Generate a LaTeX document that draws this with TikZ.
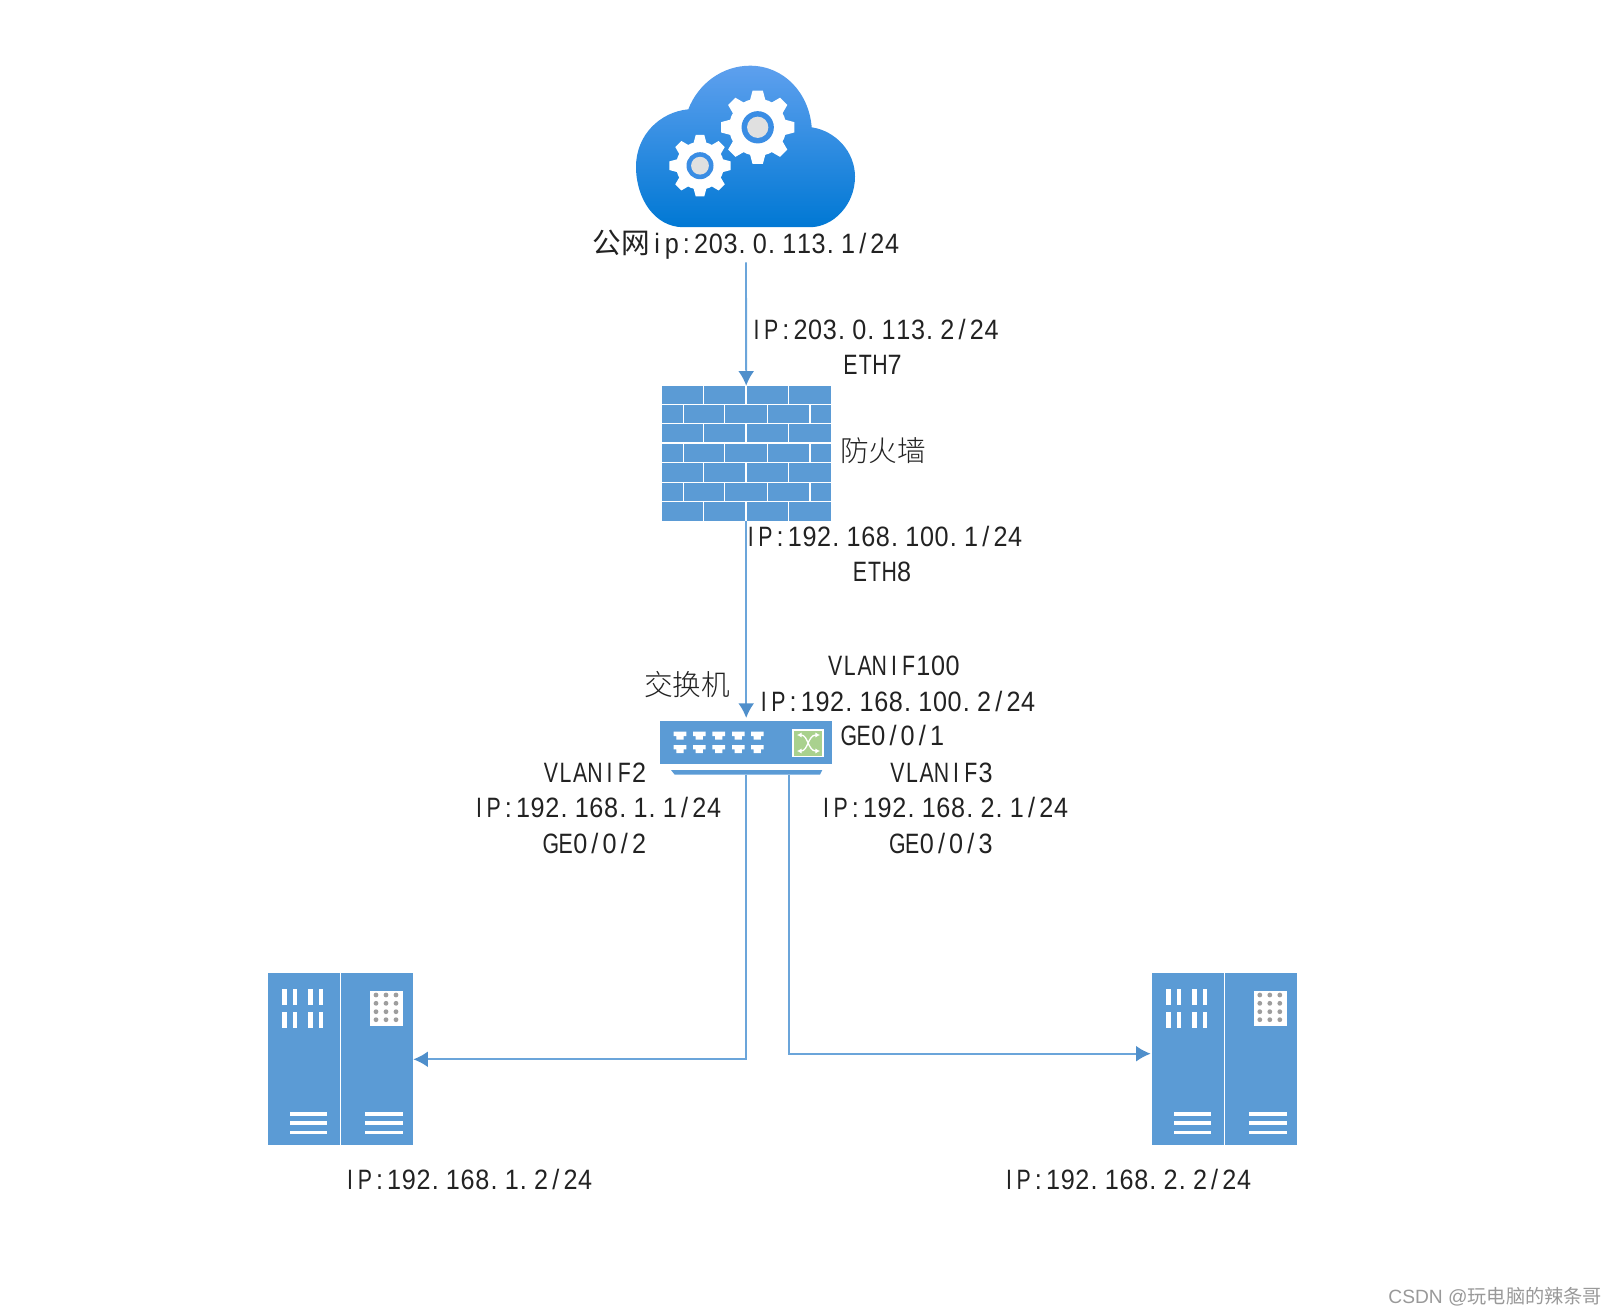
\documentclass[tikz,border=0pt]{standalone}
\usepackage{fontspec}
\usetikzlibrary{arrows.meta}
\setmainfont[FakeStretch=0.9]{Liberation Sans}
\newfontfamily\capf[FakeStretch=0.76]{Liberation Sans}
\newfontfamily\cjkf[UprightFont={* Light}]{Noto Sans CJK SC}
\newfontfamily\cjkw{Noto Sans CJK SC}
\newfontfamily\plainf{Liberation Sans}
\definecolor{netblue}{HTML}{5B9BD5}
\definecolor{linkblue}{HTML}{6BA5DA}
\definecolor{tipblue}{HTML}{4F8FCB}
\definecolor{txt}{HTML}{222222}
\definecolor{cloudtop}{HTML}{5EA0EE}
\definecolor{cloudbot}{HTML}{0078D4}
\definecolor{ringblue}{HTML}{3A8DE4}
\definecolor{swgreen}{HTML}{A9D18E}
\makeatletter
\def\mydot{.}
\newcommand{\monotxt}[1]{\fontsize{21pt}{25pt}\selectfont\@tfor\my@c:=#1\do{%
  \ifx\my@c\mydot\makebox[11.02pt][l]{\hspace{0.6pt}.}%
  \else
    \ifnum\expandafter`\my@c>64 \ifnum\expandafter`\my@c<91 \makebox[11.02pt][c]{\capf\fontsize{21pt}{25pt}\selectfont\my@c}%
      \else\makebox[11.02pt][c]{\my@c}\fi
    \else\makebox[11.02pt][c]{\my@c}\fi
  \fi}}
\makeatother
\newcommand{\cjktxt}[1]{{\fontsize{21.5pt}{25pt}\cjkf #1}}
\tikzset{
  x=0.75pt,y=-0.75pt,
  lab/.style={inner sep=0pt,outer sep=0pt,text=txt,anchor=center},
  wm/.style={inner sep=0pt,outer sep=0pt,text=black!40,anchor=east},
  iconbox/.style={inner sep=0pt,outer sep=0pt,fill=netblue,shape=rectangle},
  link/.style={draw=linkblue,line width=1.4pt},
  linka/.style={link,-{Latex[length=11pt,width=12pt,color=tipblue]}},
  brick/.style={draw=white,line width=0.9pt},
  gearpic/.pic={
    \fill[white] (0,0) circle (.78);
    \foreach \a in {0,45,...,315}{
      \fill[white,rotate=\a] (-.22,-.7) -- (-.14,-1) -- (.14,-1) -- (.22,-.7) -- cycle;
    }
    \fill[ringblue] (0,0) circle (.44);
    \fill[black!12] (0,0) circle (.29);
  },
  serverpic/.pic={
    \draw[white,line width=0.9pt] (340.7,973.3) -- (340.7,1145.3);
    \foreach \xa/\xb in {281.7/287.3,292.7/296.7,308.3/313.3,319/323.3}{
      \foreach \ya/\yb in {989.3/1005,1011.7/1027.7}{
        \fill[white] (\xa,\ya) rectangle (\xb,\yb);
      }
    }
    \fill[white] (370,990.7) rectangle (403.3,1026);
    \foreach \dx in {376,386,396}{
      \foreach \dy in {995,1003.3,1011.7,1019.7}{
        \fill[black!38] (\dx,\dy) circle (2.4);
      }
    }
    \foreach \by in {1113.7,1123,1132.3}{
      \fill[white] (290,\by-1.8) rectangle (327.3,\by+1.8);
      \fill[white] (365,\by-1.8) rectangle (403.3,\by+1.8);
    }
  }
}
\begin{document}
\begin{tikzpicture}
\useasboundingbox (0,0) rectangle (1617,1316);
% cloud
\shade[top color=cloudtop,bottom color=cloudbot]
  (683.3,227.2) .. controls (655,227.2) and (636,199) .. (636,166.7)
  .. controls (636,135) and (660,112) .. (688.3,109.3)
  .. controls (698,84) and (722,65.7) .. (750,65.7)
  .. controls (784,65.7) and (809,93) .. (811.7,127.3)
  .. controls (836,131) and (855,152) .. (855,176.7)
  .. controls (855,205) and (833,227.2) .. (810,227.2) -- cycle;
\pic[scale=36.7] at (757.7,127.3) {gearpic};
\pic[scale=30.7] at (700,165.7) {gearpic};
\node[lab,minimum height=27pt] (cloudlab) at (746,244.4) {{\fontsize{21.5pt}{25pt}\cjkw 公网}\monotxt{ip:203.0.113.1/24}};
% firewall
\node[iconbox,minimum width=126.75pt,minimum height=101.25pt] (fw) at (746.2,453.2) {};
\foreach \yy in {404.7,423.3,443,462.7,482.3,501.3}{\draw[brick] (661.7,\yy) -- (830.7,\yy);}
\foreach \ya/\yb in {385.7/404.7,423.3/443,462.7/482.3,501.3/520.7}{
  \foreach \xx in {703.3,746,788.7}{\draw[brick] (\xx,\ya) -- (\xx,\yb);}
}
\foreach \ya/\yb in {404.7/423.3,443/462.7,482.3/501.3}{
  \foreach \xx in {683.3,724.7,767.3,810}{\draw[brick] (\xx,\ya) -- (\xx,\yb);}
}
% switch
\node[iconbox,minimum width=129.2pt,minimum height=32.5pt] (sw) at (746.2,742.3) {};
\node[inner sep=0pt,outer sep=0pt,minimum width=113.5pt,minimum height=3.5pt] (swbase) at (746.2,772.3) {};
\fill[netblue] (671,770) -- (822.3,770) -- (820,774.7) -- (674.7,774.7) -- cycle;
\foreach \px in {680,699.3,718.7,738.3,757.3}{
  \foreach \py in {731.7,745}{
    \fill[white] (\px-6.3,\py) -- (\px+6.3,\py) -- (\px+6.3,\py+4.4) -- (\px+3.6,\py+4.4) -- (\px+3.6,\py+8) -- (\px-3.6,\py+8) -- (\px-3.6,\py+4.4) -- (\px-6.3,\py+4.4) -- cycle;
  }
}
\fill[white] (792.3,729) rectangle (824,757.3);
\fill[swgreen] (794,730.7) rectangle (822.3,755.6);
\draw[white,line width=1pt,{Latex[length=3.5pt,width=4pt]}-{Latex[length=3.5pt,width=4pt]}]
  (797,735) .. controls (808,735) and (808,751) .. (820,751);
\draw[white,line width=1pt,{Latex[length=3.5pt,width=4pt]}-{Latex[length=3.5pt,width=4pt]}]
  (797,751) .. controls (808,751) and (808,735) .. (820,735);
% servers
\node[iconbox,minimum width=108.75pt,minimum height=129pt] (srvL) at (340.8,1059.3) {};
\pic at (0,0) {serverpic};
\node[iconbox,minimum width=109pt,minimum height=129pt] (srvR) at (1224.7,1059.3) {};
\pic at (883.8,0) {serverpic};
% connectors
\coordinate (swr) at (789,774.7);
\coordinate (srvRin) at (1150.7,1053.7);
\draw[linka] (cloudlab.south) -- (fw.north);
\draw[linka,shorten >=2pt] (fw.south) -- (sw.north);
\draw[linka] (swbase.south) |- (srvL.east);
\draw[linka] (swr) |- (srvRin);
% labels
\node[lab] (l1) at (874,329) {\monotxt{IP:203.0.113.2/24}};
\node[lab] (l2) at (872.6,365) {\monotxt{ETH7}};
\node[lab] (l3) at (883,451) {\cjktxt{防火墙}};
\node[lab] (l4) at (883,536.5) {\monotxt{IP:192.168.100.1/24}};
\node[lab] (l5) at (882,572) {\monotxt{ETH8}};
\node[lab] (l6) at (894,666) {\monotxt{VLANIF100}};
\node[lab] (l7) at (896,701) {\monotxt{IP:192.168.100.2/24}};
\node[lab] (l8) at (893,735) {\monotxt{GE0/0/1}};
\node[lab] (l9) at (687,685) {\cjktxt{交换机}};
\node[lab] (l10) at (595,772.5) {\monotxt{VLANIF2}};
\node[lab] (l11) at (596.5,807.5) {\monotxt{IP:192.168.1.1/24}};
\node[lab] (l12) at (595,843.5) {\monotxt{GE0/0/2}};
\node[lab] (l13) at (941.5,772.5) {\monotxt{VLANIF3}};
\node[lab] (l14) at (943.5,807.5) {\monotxt{IP:192.168.2.1/24}};
\node[lab] (l15) at (941.5,843.5) {\monotxt{GE0/0/3}};
\node[lab] (l16) at (467.7,1179) {\monotxt{IP:192.168.1.2/24}};
\node[lab] (l17) at (1126.6,1179) {\monotxt{IP:192.168.2.2/24}};
\node[wm] (wmark) at (1602,1297) {\fontsize{14.4pt}{18pt}\plainf CSDN @{\cjkw 玩电脑的辣条哥}};
\end{tikzpicture}
\end{document}
